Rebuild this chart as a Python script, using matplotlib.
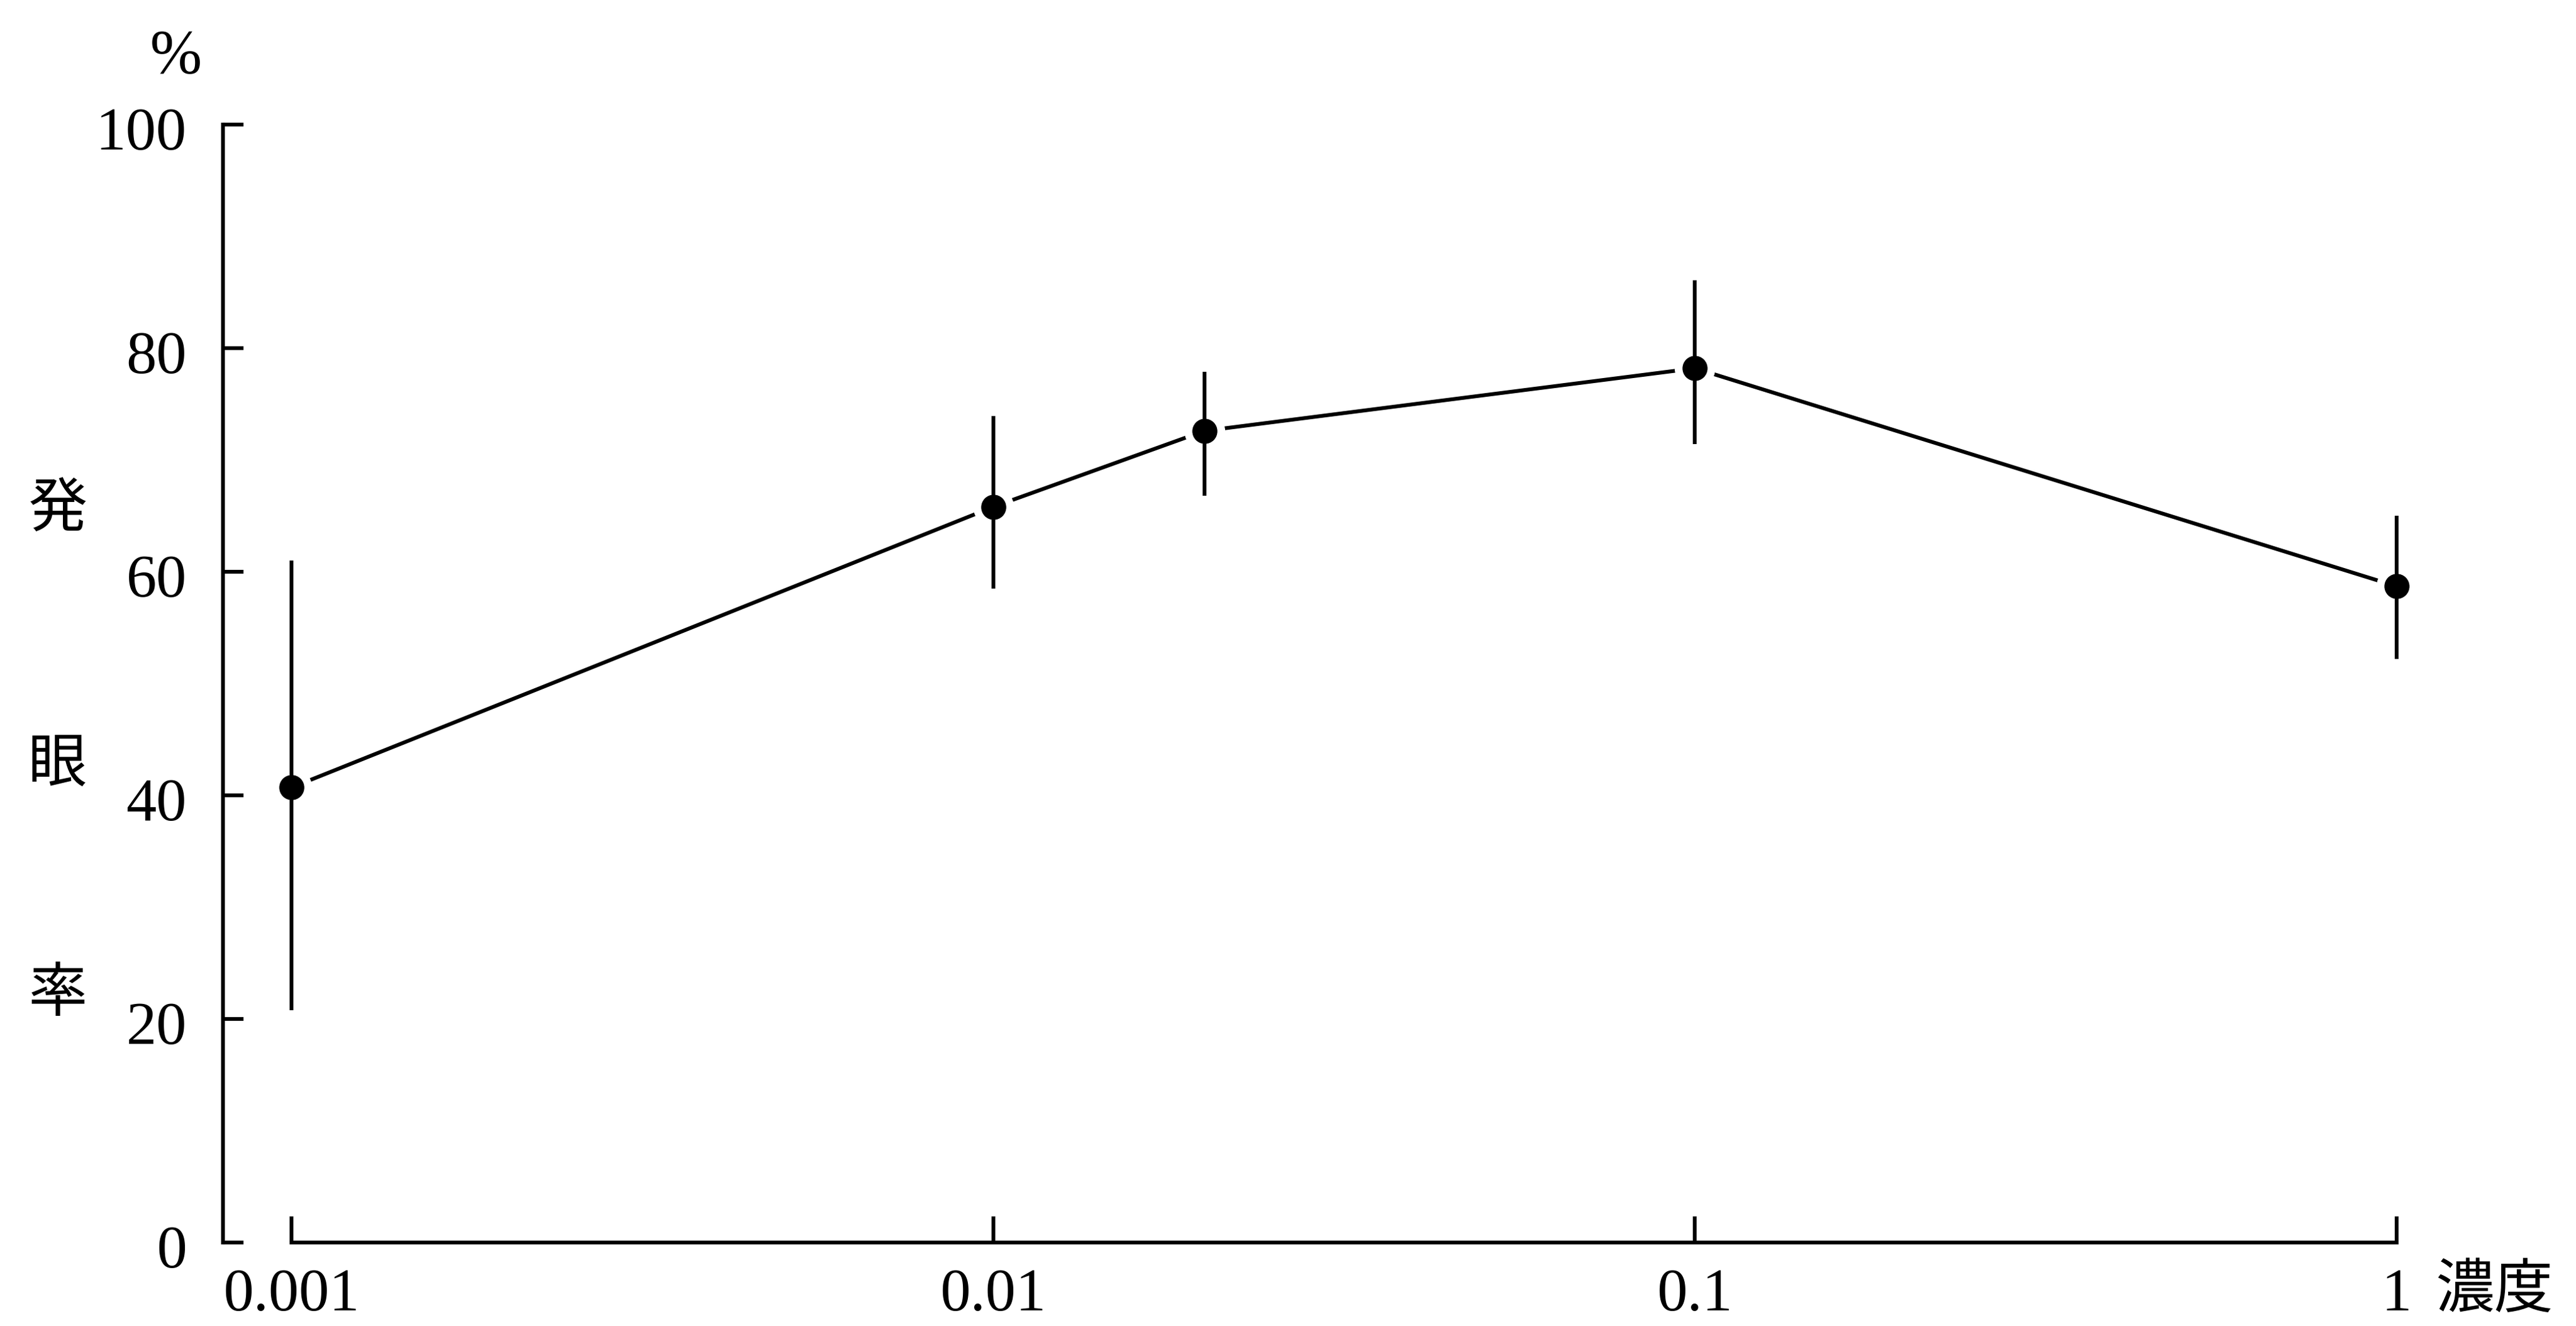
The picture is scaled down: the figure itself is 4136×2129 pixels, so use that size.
import matplotlib.pyplot as plt
import matplotlib.transforms as mtransforms

# --- data ---
conc = [0.001, 0.01, 0.02, 0.1, 1]
rate = [40.7, 65.8, 72.6, 78.2, 58.7]
err_low = [19.9, 7.3, 5.8, 6.8, 6.5]
err_high = [20.3, 8.1, 5.3, 7.9, 6.3]

y_ticks = [0, 20, 40, 60, 80, 100]
x_ticks = [0.001, 0.01, 0.1, 1]
x_tick_labels = ["0.001", "0.01", "0.1", "1"]

W, H = 4136, 2129
fig = plt.figure(figsize=(W / 100, H / 100), dpi=100)
fig.patch.set_facecolor("white")

# axes box in pixels of the reference
left, right, top, bottom = 358, 3848, 200, 1995
ax = fig.add_axes([left / W, 1 - bottom / H, (right - left) / W, (bottom - top) / H])

jp = ["Noto Sans CJK JP", "DejaVu Sans"]
lw = 4.4

# connecting line with small gaps round each point
ax.plot(conc, rate, color="black", lw=lw, zorder=1, clip_on=False)
ax.plot(conc, rate, "o", ms=46, mfc="white", mec="white", zorder=2, clip_on=False)
ax.errorbar(conc, rate, yerr=[err_low, err_high], fmt="none",
            ecolor="black", elinewidth=lw, capsize=0, zorder=3, clip_on=False)
ax.plot(conc, rate, "o", ms=28, color="black", zorder=4, clip_on=False)

ax.set_xscale("log")
ax.set_xlim(0.001 * 10 ** (-0.0976), 1.0)
ax.set_ylim(0, 100)

for s in ["top", "right"]:
    ax.spines[s].set_visible(False)
for s in ["left", "bottom"]:
    ax.spines[s].set_linewidth(lw)
    ax.spines[s].set_capstyle("projecting")
ax.spines["bottom"].set_bounds(0.001, 1)
ax.spines["left"].set_bounds(0, 100)

ax.set_xticks(x_ticks)
ax.set_xticklabels(x_tick_labels)
ax.xaxis.set_minor_locator(plt.NullLocator())
ax.set_yticks(y_ticks)
ax.set_yticklabels([str(v) for v in y_ticks])

ax.tick_params(axis="x", direction="in", length=30, width=lw, pad=30)
ax.tick_params(axis="y", direction="in", length=24, width=lw, pad=42)
shift = mtransforms.ScaledTranslation(0, -0.06, fig.dpi_scale_trans)
for lab in ax.get_yticklabels():
    lab.set_transform(lab.get_transform() + shift)
for lab in ax.get_xticklabels() + ax.get_yticklabels():
    lab.set_fontfamily("Liberation Serif")
    lab.set_fontsize(70)

# axis titles, placed like the printed figure
fig.text(282 / W, 1 - 92 / H, "%", ha="center", va="center",
         family="Liberation Serif", size=72)
for ch, yp in zip(["発", "眼", "率"], [818, 1227, 1596]):
    fig.text(92 / W, 1 - yp / H, ch, ha="center", va="center", family=jp, size=68)
fig.text(3910 / W, 1 - 2072 / H, "濃度", ha="left", va="center", family=jp, size=68)

fig.savefig("out.png", dpi=100, facecolor="white")
